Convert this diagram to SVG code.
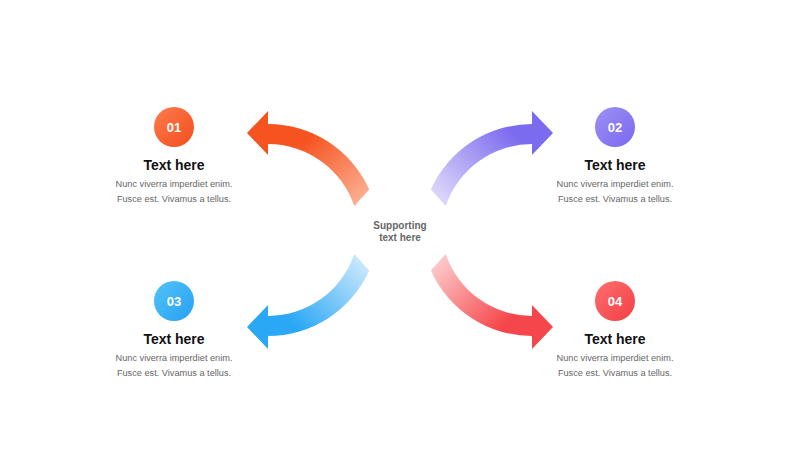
<svg xmlns="http://www.w3.org/2000/svg" xmlns:xlink="http://www.w3.org/1999/xlink" width="800" height="450" viewBox="0 0 800 450">
  <style>
    .num { font-family: "Liberation Sans", Arial, sans-serif; font-weight: bold; font-size: 13px; fill: #ffffff; text-anchor: middle; }
    .title { font-family: "Liberation Sans", Arial, sans-serif; font-weight: bold; font-size: 14px; fill: #111111; text-anchor: middle; }
    .desc { font-family: "Liberation Sans", Arial, sans-serif; font-size: 9.2px; fill: #666666; text-anchor: middle; }
    .center { font-family: "Liberation Sans", Arial, sans-serif; font-weight: bold; font-size: 10px; fill: #666666; text-anchor: middle; }
  </style>
  <defs>
    <path id="arrow" d="M 268 111 L 247 133 L 268 155 L 268 144 A 91 91 0 0 1 354.3 206.1 L 369.2 189.5 A 111 111 0 0 0 268 124 Z"/>
    <linearGradient id="gOrange" gradientUnits="userSpaceOnUse" x1="362" y1="205" x2="305" y2="140">
      <stop offset="0" stop-color="#FCB396"/>
      <stop offset="1" stop-color="#F5531F"/>
    </linearGradient>
    <linearGradient id="gPurple" gradientUnits="userSpaceOnUse" x1="362" y1="205" x2="290" y2="130">
      <stop offset="0" stop-color="#E2DDFB"/>
      <stop offset="1" stop-color="#7B6BEF"/>
    </linearGradient>
    <linearGradient id="gBlue" gradientUnits="userSpaceOnUse" x1="362" y1="205" x2="295" y2="135">
      <stop offset="0" stop-color="#D2ECFD"/>
      <stop offset="1" stop-color="#2BA8F5"/>
    </linearGradient>
    <linearGradient id="gRed" gradientUnits="userSpaceOnUse" x1="362" y1="205" x2="295" y2="135">
      <stop offset="0" stop-color="#FDD0D0"/>
      <stop offset="1" stop-color="#F5464B"/>
    </linearGradient>
    <linearGradient id="c1" x1="0" y1="0" x2="1" y2="1">
      <stop offset="0" stop-color="#FF7A4C"/>
      <stop offset="1" stop-color="#F24E1E"/>
    </linearGradient>
    <linearGradient id="c2" x1="0" y1="0" x2="1" y2="1">
      <stop offset="0" stop-color="#9D90F6"/>
      <stop offset="1" stop-color="#7A68EE"/>
    </linearGradient>
    <linearGradient id="c3" x1="0" y1="0" x2="1" y2="1">
      <stop offset="0" stop-color="#52C3F8"/>
      <stop offset="1" stop-color="#27A0F3"/>
    </linearGradient>
    <linearGradient id="c4" x1="0" y1="0" x2="1" y2="1">
      <stop offset="0" stop-color="#FF6E6E"/>
      <stop offset="1" stop-color="#F23F45"/>
    </linearGradient>
  </defs>

  <rect width="800" height="450" fill="#ffffff"/>

  <g id="connectors">
    <use xlink:href="#arrow" href="#arrow" fill="url(#gOrange)"/>
    <use xlink:href="#arrow" href="#arrow" fill="url(#gPurple)" transform="matrix(-1 0 0 1 800 0)"/>
    <use xlink:href="#arrow" href="#arrow" fill="url(#gBlue)" transform="matrix(1 0 0 -1 0 460)"/>
    <use xlink:href="#arrow" href="#arrow" fill="url(#gRed)" transform="matrix(-1 0 0 -1 800 460)"/>
  </g>

  <g id="center">
    <text class="center" x="400" y="228.5">Supporting</text>
    <text class="center" x="400" y="240.5">text here</text>
  </g>

  <g id="node-01">
    <circle cx="174" cy="127" r="20" fill="url(#c1)"/>
    <text class="num" x="174" y="131.7">01</text>
    <text class="title" x="174" y="169.5">Text here</text>
    <text class="desc" x="174" y="187">Nunc viverra imperdiet enim.</text>
    <text class="desc" x="174" y="202">Fusce est. Vivamus a tellus.</text>
  </g>

  <g id="node-02">
    <circle cx="615" cy="127" r="20" fill="url(#c2)"/>
    <text class="num" x="615" y="131.7">02</text>
    <text class="title" x="615" y="169.5">Text here</text>
    <text class="desc" x="615" y="187">Nunc viverra imperdiet enim.</text>
    <text class="desc" x="615" y="202">Fusce est. Vivamus a tellus.</text>
  </g>

  <g id="node-03">
    <circle cx="174" cy="301" r="20" fill="url(#c3)"/>
    <text class="num" x="174" y="305.7">03</text>
    <text class="title" x="174" y="343.5">Text here</text>
    <text class="desc" x="174" y="361">Nunc viverra imperdiet enim.</text>
    <text class="desc" x="174" y="376">Fusce est. Vivamus a tellus.</text>
  </g>

  <g id="node-04">
    <circle cx="615" cy="301" r="20" fill="url(#c4)"/>
    <text class="num" x="615" y="305.7">04</text>
    <text class="title" x="615" y="343.5">Text here</text>
    <text class="desc" x="615" y="361">Nunc viverra imperdiet enim.</text>
    <text class="desc" x="615" y="376">Fusce est. Vivamus a tellus.</text>
  </g>
</svg>
